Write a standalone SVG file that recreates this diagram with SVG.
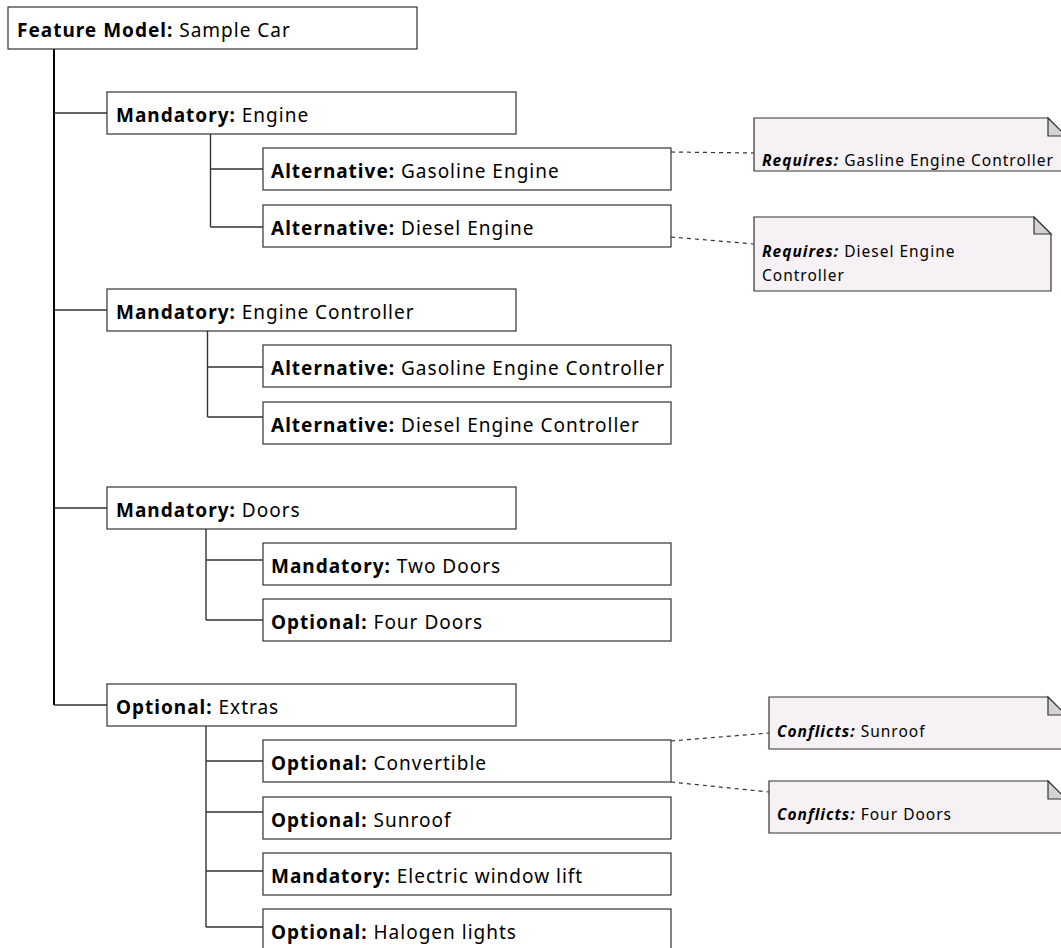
<svg xmlns="http://www.w3.org/2000/svg" width="1061" height="948" viewBox="0 0 1061 948">
<style>
.box{fill:#fff;stroke:#333;stroke-width:1.2}
.note{fill:#f5f1f5;stroke:#333;stroke-width:1.2}
.fold{fill:#d3d3d3;stroke:#333;stroke-width:1.2}
.t{font-family:"Noto Sans","Open Sans",sans-serif;font-size:19px;letter-spacing:1px;fill:#000}
.nt{font-family:"Noto Sans","Open Sans",sans-serif;font-size:15.5px;letter-spacing:1px;fill:#000}
.b{font-weight:bold}
.bi{font-weight:bold;font-style:italic}
.trunk{stroke:#000;stroke-width:2;fill:none}
.br{stroke:#333;stroke-width:1.4;fill:none}
.dash{stroke:#333;stroke-width:1.2;fill:none;stroke-dasharray:4 4}
</style>
<rect width="1061" height="948" fill="#fff"/>
<g id="connectors">
<path class="trunk" d="M54 49V705"/>
<path class="br" d="M54 113H107M54 310H107M54 508H107M54 705H107"/>
<path class="br" d="M210.5 134V227M210.5 169H263M210.5 227H263"/>
<path class="br" d="M207.5 331V417M207.5 367H263M207.5 417H263"/>
<path class="br" d="M206 529V620M206 560H263M206 620H263"/>
<path class="br" d="M206 726V927M206 761H263M206 812H263M206 871H263M206 927H263"/>
<path class="dash" d="M671 152L754 153"/>
<path class="dash" d="M671 237L754 244"/>
<path class="dash" d="M671 741L769 733"/>
<path class="dash" d="M671 782L769 792"/>
</g>
<g id="root"><rect class="box" x="8" y="7" width="409" height="42"/><text class="t" x="17" y="37"><tspan class="b">Feature Model:</tspan> Sample Car</text></g>
<g id="engine"><rect class="box" x="107" y="92" width="409" height="42"/><text class="t" x="116" y="122"><tspan class="b">Mandatory:</tspan> Engine</text></g>
<g id="gasoline-engine"><rect class="box" x="263" y="148" width="408" height="42"/><text class="t" x="271" y="178"><tspan class="b">Alternative:</tspan> Gasoline Engine</text></g>
<g id="diesel-engine"><rect class="box" x="263" y="205" width="408" height="42"/><text class="t" x="271" y="235"><tspan class="b">Alternative:</tspan> Diesel Engine</text></g>
<g id="engine-controller"><rect class="box" x="107" y="289" width="409" height="42"/><text class="t" x="116" y="319"><tspan class="b">Mandatory:</tspan> Engine Controller</text></g>
<g id="gasoline-engine-controller"><rect class="box" x="263" y="345" width="408" height="42"/><text class="t" x="271" y="375"><tspan class="b">Alternative:</tspan> Gasoline Engine Controller</text></g>
<g id="diesel-engine-controller"><rect class="box" x="263" y="402" width="408" height="42"/><text class="t" x="271" y="432"><tspan class="b">Alternative:</tspan> Diesel Engine Controller</text></g>
<g id="doors"><rect class="box" x="107" y="487" width="409" height="42"/><text class="t" x="116" y="517"><tspan class="b">Mandatory:</tspan> Doors</text></g>
<g id="two-doors"><rect class="box" x="263" y="543" width="408" height="42"/><text class="t" x="271" y="573"><tspan class="b">Mandatory:</tspan> Two Doors</text></g>
<g id="four-doors"><rect class="box" x="263" y="599" width="408" height="42"/><text class="t" x="271" y="629"><tspan class="b">Optional:</tspan> Four Doors</text></g>
<g id="extras"><rect class="box" x="107" y="684" width="409" height="42"/><text class="t" x="116" y="714"><tspan class="b">Optional:</tspan> Extras</text></g>
<g id="convertible"><rect class="box" x="263" y="740" width="408" height="42"/><text class="t" x="271" y="770"><tspan class="b">Optional:</tspan> Convertible</text></g>
<g id="sunroof"><rect class="box" x="263" y="797" width="408" height="42"/><text class="t" x="271" y="827"><tspan class="b">Optional:</tspan> Sunroof</text></g>
<g id="electric-window-lift"><rect class="box" x="263" y="853" width="408" height="42"/><text class="t" x="271" y="883"><tspan class="b">Mandatory:</tspan> Electric window lift</text></g>
<g id="halogen-lights"><rect class="box" x="263" y="909" width="408" height="42"/><text class="t" x="271" y="939"><tspan class="b">Optional:</tspan> Halogen lights</text></g>
<g id="note-requires-gasoline"><path class="note" d="M754 118H1048L1066 136V171H754Z"/><path class="fold" d="M1048 118V136H1066Z"/><text class="nt" x="762" y="166"><tspan class="bi">Requires:</tspan> Gasline Engine Controller</text></g>
<g id="note-requires-diesel"><path class="note" d="M754 217H1034L1051 234V291H754Z"/><path class="fold" d="M1034 217V234H1051Z"/><text class="nt" x="762" y="257"><tspan class="bi">Requires:</tspan> Diesel Engine</text><text class="nt" x="762" y="281">Controller</text></g>
<g id="note-conflicts-sunroof"><path class="note" d="M769 697H1048L1066 715V749H769Z"/><path class="fold" d="M1048 697V715H1066Z"/><text class="nt" x="777" y="737"><tspan class="bi">Conflicts:</tspan> Sunroof</text></g>
<g id="note-conflicts-four-doors"><path class="note" d="M769 781H1048L1066 799V833H769Z"/><path class="fold" d="M1048 781V799H1066Z"/><text class="nt" x="777" y="820"><tspan class="bi">Conflicts:</tspan> Four Doors</text></g>
</svg>
